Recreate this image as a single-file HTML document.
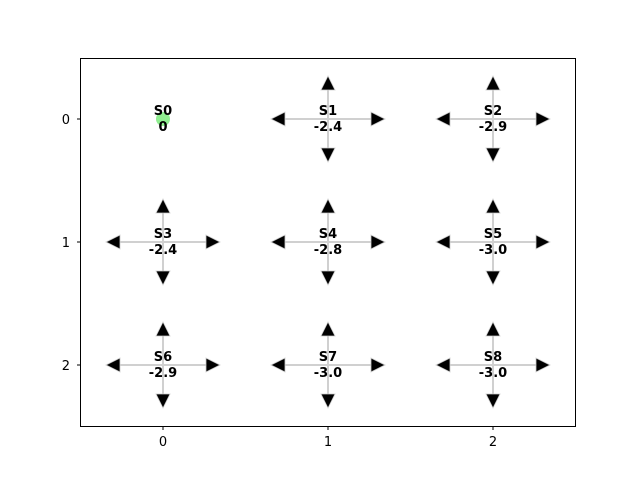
<!DOCTYPE html>
<html><head><meta charset="utf-8"><style>body{margin:0;background:#fff}svg{display:block}</style></head>
<body>
<svg id="c" width="640" height="480" xmlns="http://www.w3.org/2000/svg" font-family="DejaVu Sans, Liberation Sans, sans-serif">
<rect x="80.5" y="58.5" width="495" height="368" fill="#fff" stroke="#000" stroke-width="1"/>
<g id="marks"></g>
<g id="axes"></g>
</svg>
<script>
const states = ["S0","S1","S2","S3","S4","S5","S6","S7","S8"];
const values = ["0","-2.4","-2.9","-2.4","-2.8","-3.0","-2.9","-3.0","-3.0"];
const terminal = [true,false,false,false,false,false,false,false,false];
const xTicks = [0,1,2];
const yTicks = [0,1,2];
const NS="http://www.w3.org/2000/svg";
const X=c=>163+165*c, Y=r=>119+123*r;
const marks=document.getElementById('marks'), axes=document.getElementById('axes');
function mk(tag,attrs,parent){const e=document.createElementNS(NS,tag);for(const k in attrs)e.setAttribute(k,attrs[k]);parent.appendChild(e);return e;}
states.forEach((s,i)=>{
  const cx=X(i%3), cy=Y(Math.floor(i/3));
  const g=mk('g',{},marks);
  
  
  if(terminal[i]){
    const c=mk('circle',{cx:cx,cy:cy,r:7,fill:'#90ee90'},g);
    
    
  } else {
    const dx=57, dy=43, hl=14, hw=7;
    mk('line',{x1:cx-dx+hl,y1:cy,x2:cx+dx-hl,y2:cy,stroke:'#d0d0d0','stroke-width':2},g);
    mk('line',{x1:cx,y1:cy-dy+hl,x2:cx,y2:cy+dy-hl,stroke:'#d0d0d0','stroke-width':2},g);
    const heads=[
      [[cx+dx,cy],[cx+dx-hl,cy-hw],[cx+dx-hl,cy+hw],'right'],
      [[cx-dx,cy],[cx-dx+hl,cy-hw],[cx-dx+hl,cy+hw],'left'],
      [[cx,cy-dy],[cx-hw,cy-dy+hl],[cx+hw,cy-dy+hl],'up'],
      [[cx,cy+dy],[cx-hw,cy+dy-hl],[cx+hw,cy+dy-hl],'down']];
    heads.forEach(h=>{
      const p=mk('polygon',{points:h.slice(0,3).map(q=>q.join(',')).join(' '),fill:'#000',stroke:'#cccccc','stroke-width':0.8},g);
      
      
    });
  }
  const t=mk('text',{x:cx,y:cy-4,'text-anchor':'middle','font-size':13,'font-weight':'bold'},g);
  t.textContent=s;
  
  
  const v=mk('text',{x:cx,y:cy+12,'text-anchor':'middle','font-size':13,'font-weight':'bold'},g);
  v.textContent=values[i];
  
  
});
xTicks.forEach(t=>{
  const x=X(t);
  mk('line',{x1:x,y1:426.5,x2:x,y2:430,stroke:'#000'},axes);
  const l=mk('text',{x:x,y:446,'text-anchor':'middle','font-size':13},axes);
  l.textContent=t;
  
  
});
yTicks.forEach(t=>{
  const y=Y(t);
  mk('line',{x1:77,y1:y,x2:80.5,y2:y,stroke:'#000'},axes);
  const l=mk('text',{x:70,y:y+5,'text-anchor':'end','font-size':13},axes);
  l.textContent=t;
  
  
});
</script>
</body></html>
